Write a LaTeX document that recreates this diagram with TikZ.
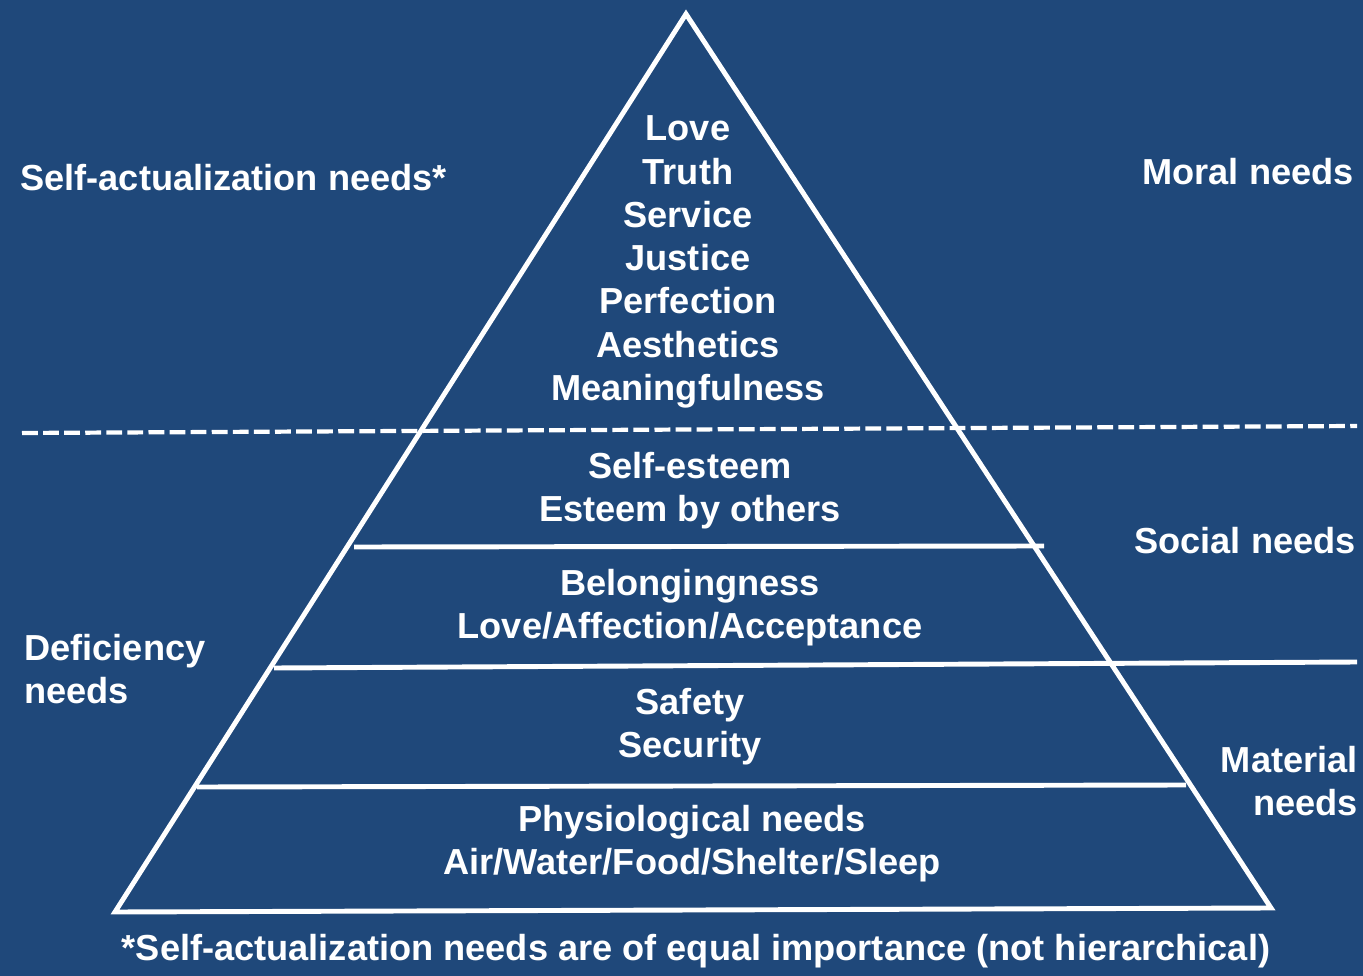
\documentclass[tikz,border=0pt]{standalone}
\usepackage{fontspec}
\setmainfont{Liberation Sans}
\definecolor{bgblue}{RGB}{31,72,122}
\tikzset{
  needtext/.style={text=white, font=\bfseries\fontsize{20.6}{24.6}\selectfont, align=center, inner sep=0pt},
  sidetext/.style={needtext, align=left},
  pyrline/.style={draw=white, line width=2.8pt},
  gapline/.style={draw=white, line width=2.4pt, dash pattern=on 9pt off 3pt}
}

\begin{document}
\begin{tikzpicture}[x=0.02cm, y=-0.02cm]
\fill[bgblue] (0,0) rectangle (1363,976);
\useasboundingbox (0,0) rectangle (1363,976);

% pyramid corners and level ends
\coordinate (apex) at (686,14);
\coordinate (baseL) at (115,912);
\coordinate (baseR) at (1271,908);
\coordinate (dashL) at (22,433);
\coordinate (dashR) at (1357,426);
\coordinate (esteemL) at (354,547);
\coordinate (esteemR) at (1044,546);
\coordinate (belongL) at (274,668);
\coordinate (belongR) at (1357,662);
\coordinate (safetyL) at (197,787);
\coordinate (safetyR) at (1186,785);

\draw[pyrline, line join=miter] (baseL) -- (apex) -- (baseR) -- cycle;
\draw[gapline] (dashL) -- (dashR);
\draw[pyrline] (esteemL) -- (esteemR);
\draw[pyrline] (belongL) -- (belongR);
\draw[pyrline] (safetyL) -- (safetyR);

\node[needtext] (moral) at (688,262) {Love\\Truth\\Service\\Justice\\Perfection\\Aesthetics\\Meaningfulness};
\node[needtext] (esteem) at (690,491) {Self-esteem\\Esteem by others};
\node[needtext] (belong) at (690,608) {Belongingness\\Love/Affection/Acceptance};
\node[needtext] (safety) at (690,727) {Safety\\Security};
\node[needtext] (physio) at (692,844) {Physiological needs\\Air/Water/Food/Shelter/Sleep};

\node[sidetext, anchor=west] (selfact) at (20,178) {Self-actualization needs*};
\node[sidetext, anchor=west] (deficiency) at (24,669) {Deficiency\\needs};
\node[sidetext, anchor=east] (moralneeds) at (1354,172) {Moral needs};
\node[sidetext, anchor=east] (socialneeds) at (1356,541) {Social needs};
\node[needtext, align=right, anchor=east] (materialneeds) at (1358,781) {Material\\needs};

\node[needtext] (footnote) at (696,951) {*Self-actualization needs are of equal importance (not hierarchical)};
\end{tikzpicture}
\end{document}
